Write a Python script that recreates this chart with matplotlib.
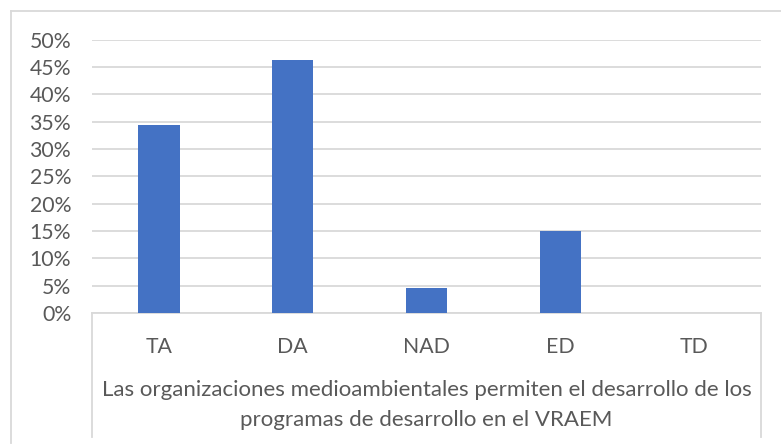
import matplotlib
matplotlib.use("Agg")
import matplotlib.pyplot as plt
from matplotlib.lines import Line2D
from matplotlib.ticker import FuncFormatter, MultipleLocator

categories = ["TA", "DA", "NAD", "ED", "TD"]
values = [0.3433, 0.4627, 0.0448, 0.1493, 0.0]
xlabel = "Las organizaciones medioambientales permiten el desarrollo de los\nprogramas de desarrollo en el VRAEM"

W, H = 781, 445
plt.rcParams['font.family'] = ['Lato', 'DejaVu Sans']
fig = plt.figure(figsize=(W / 100, H / 100), dpi=100)

TXT = "#595959"
GRID = "#D9D9D9"
BAR = "#4472C4"

px_l, px_r, px_t, px_b = 92, 761, 39.5, 313
ax = fig.add_axes([px_l / W, (H - px_b) / H, (px_r - px_l) / W, (px_b - px_t) / H])
x = list(range(len(categories)))
ax.bar(x, values, width=0.31, color=BAR, zorder=3)
ax.set_xlim(-0.5, len(categories) - 0.5)
ax.set_ylim(0, 0.5)
ax.yaxis.set_major_locator(MultipleLocator(0.05))
ax.yaxis.set_major_formatter(FuncFormatter(lambda v, p: f"{round(v * 100):d}%"))
ax.grid(axis="y", color=GRID, linewidth=1.3, zorder=0)
for s in ["top", "right", "left"]:
    ax.spines[s].set_visible(False)
ax.spines["bottom"].set_color(GRID)
ax.spines["bottom"].set_linewidth(1.3)
ax.tick_params(axis="y", length=0, labelsize=15.3, labelcolor=TXT, pad=15)
ax.set_xticks(x)
ax.set_xticklabels(categories)
ax.tick_params(axis="x", length=0, labelsize=15.3, labelcolor=TXT, pad=17)

# axis title inside box
fig.text((px_l + px_r) / 2 / W, 1 - 405 / H, xlabel, ha="center", va="center",
         fontsize=16, color=TXT, linespacing=1.62)

# box side lines
for xp in (px_l, px_r):
    fig.add_artist(Line2D([xp / W, xp / W], [1 - px_b / H, 1 - 437 / H],
                          color=GRID, linewidth=1.3))
# outer chart border
fig.add_artist(Line2D([11 / W, 11 / W], [1 - 11 / H, 1 - 443 / H], color=GRID, linewidth=1.3))
fig.add_artist(Line2D([11 / W, 1.0], [1 - 11 / H, 1 - 11 / H], color=GRID, linewidth=1.3))

fig.savefig("out.png", dpi=100)
